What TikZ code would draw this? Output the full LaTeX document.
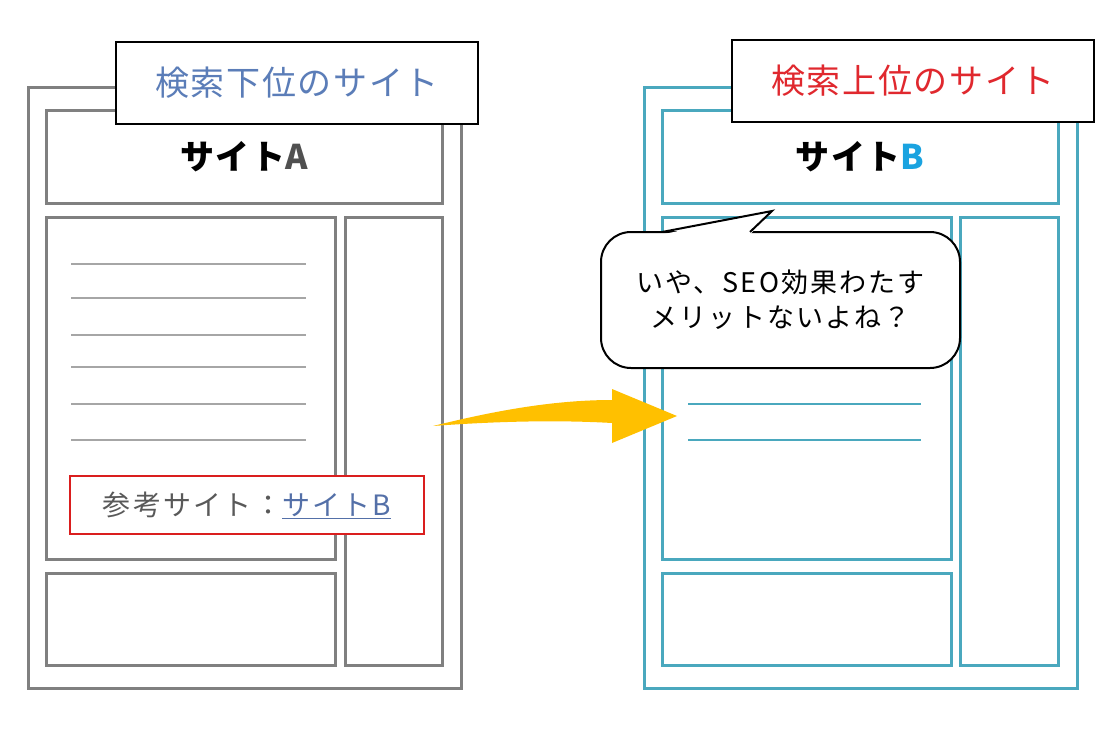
\documentclass[tikz,border=0pt]{standalone}
\usepackage{fontspec}
\setmainfont{Noto Sans CJK JP}
\newfontfamily\jp[LetterSpace=5]{Noto Sans CJK JP}
\newfontfamily\jpw[LetterSpace=8]{Noto Sans CJK JP}
\definecolor{gframe}{HTML}{808080}
\definecolor{gline}{HTML}{A6A6A6}
\definecolor{teal}{HTML}{4AA8BE}
\definecolor{titleblue}{HTML}{5B7DB8}
\definecolor{titlered}{HTML}{E0282E}
\definecolor{redbox}{HTML}{DA1E1E}
\definecolor{linkblue}{HTML}{5470A8}
\definecolor{textgray}{HTML}{595959}
\definecolor{bcyan}{HTML}{1AA3E0}
\definecolor{adark}{HTML}{505050}
\definecolor{arrowyellow}{HTML}{FFC000}
\begin{document}
\begin{tikzpicture}[x=1pt,y=-1pt,
  box/.style={anchor=north west,inner sep=0pt,outer sep=0pt,fill=white},
  gbox/.style={box,draw=gframe,line width=3pt},
  tbox/.style={box,draw=teal,line width=3pt},
  labelbox/.style={box,draw=black,line width=2pt,font=\jp\fontsize{34}{38}\selectfont},
  gline/.style={draw=gline,line width=2.5pt},
  tline/.style={draw=teal,line width=2.5pt},
  headtext/.style={font=\jp\bfseries\fontsize{34}{38}\selectfont}]
\useasboundingbox (0,0) rectangle (1115,754);
% ---------- left site ----------
\node[gbox,minimum width=433pt,minimum height=600pt] (outA) at (28,88) {};
\node[gbox,minimum width=396pt,minimum height=92pt] (headA) at (46,111) {};
\node[headtext] (titleA) at (headA.center) {サイト\textcolor{adark}{A}};
\node[gbox,minimum width=289pt,minimum height=342pt] (mainA) at (46,217) {};
\node[gbox,minimum width=97pt,minimum height=448pt] (sideA) at (345,217) {};
\node[gbox,minimum width=289pt,minimum height=92pt] (footA) at (46,573) {};
\foreach \yy in {264,298,335,367,404,440}
  \draw[gline] (71,\yy) -- (306,\yy);
\node[box,draw=redbox,line width=2.5pt,minimum width=354pt,minimum height=58pt,
  font=\jpw\fontsize{28}{30}\selectfont,text=textgray] (ref) at (70,476)
  {参考サイト：\textcolor{linkblue}{\underline{サイトB}}};
\node[labelbox,minimum width=362pt,minimum height=82pt,text=titleblue] (labA) at (116,42) {検索下位のサイト};
% ---------- right site ----------
\node[tbox,minimum width=433pt,minimum height=600pt] (outB) at (644,88) {};
\node[tbox,minimum width=396pt,minimum height=92pt] (headB) at (662,111) {};
\node[headtext] (titleB) at (headB.center) {サイト\textcolor{bcyan}{B}};
\node[tbox,minimum width=289pt,minimum height=342pt] (mainB) at (662,217) {};
\node[tbox,minimum width=98pt,minimum height=448pt] (sideB) at (960,217) {};
\node[tbox,minimum width=289pt,minimum height=92pt] (footB) at (662,573) {};
\foreach \yy in {404,440}
  \draw[tline] (688,\yy) -- (921,\yy);
\node[labelbox,minimum width=362pt,minimum height=82pt,text=titlered] (labB) at (732,40) {検索上位のサイト};
% ---------- speech bubble ----------
\node[draw=black,line width=2pt,fill=white,rounded corners=30pt,inner sep=0pt,
  minimum width=359pt,minimum height=136pt,align=center,
  font=\jpw\fontsize{27}{35}\selectfont] (bubble) at (780.5,300)
  {いや、SEO効果わたす\\メリットないよね？};
\coordinate (tailL) at (662,232);
\coordinate (tailTip) at (772,211);
\coordinate (tailR) at (750,232);
\fill[white] (662,234.5) -- (tailTip) -- (750,234.5) -- cycle;
\draw[line width=2pt,line join=miter] (tailL) -- (tailTip) -- (tailR);
% ---------- arrow ----------
\coordinate (arrTail) at (433,426);
\coordinate (arrTip) at (677,416);
\fill[arrowyellow] (arrTail) .. controls (490,412) and (550,400) .. (612,400)
  -- (612,389) -- (arrTip) -- (612,443) -- (612,423)
  .. controls (560,420) and (500,421) .. (arrTail) -- cycle;
\end{tikzpicture}
\end{document}
